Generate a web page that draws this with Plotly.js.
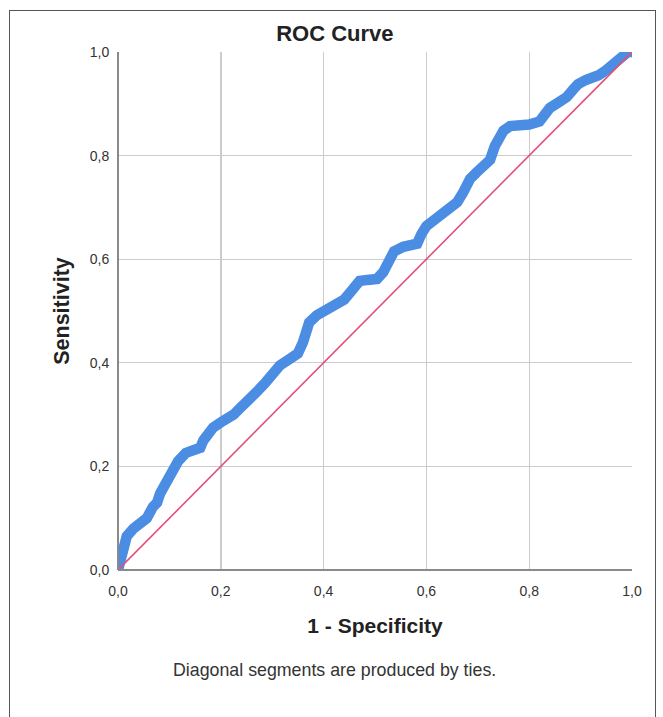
<!DOCTYPE html>
<html>
<head>
<meta charset="utf-8">
<script src="https://cdn.plot.ly/plotly-3.0.1.min.js"></script>
<style>
  html, body { margin: 0; padding: 0; background: #ffffff; }
  #wrap { position: relative; width: 663px; height: 717px; overflow: hidden; }
  #frame { position: absolute; left: 9px; top: 10px; width: 645px; height: 720px;
           border: 1.5px solid #555; border-bottom: none; pointer-events: none; }
  #chart { position: absolute; left: 0; top: 0; width: 663px; height: 717px; }
</style>
</head>
<body>
<div id="wrap">
  <div id="chart"></div>
  <div id="frame"></div>
</div>
<script>
// ROC curve points (1 - Specificity, Sensitivity)
const fpr = [0, 0.004, 0.008, 0.017, 0.03, 0.043, 0.056, 0.068, 0.076, 0.082, 0.093, 0.1, 0.107, 0.117, 0.132,
  0.146, 0.16, 0.166, 0.185, 0.2, 0.212, 0.225, 0.237, 0.257, 0.27, 0.287, 0.3, 0.315, 0.335, 0.35,
  0.36, 0.366, 0.372, 0.387, 0.403, 0.42, 0.44, 0.455, 0.47, 0.485, 0.504, 0.516, 0.526, 0.537,
  0.555, 0.57, 0.582, 0.59, 0.6, 0.613, 0.628, 0.646, 0.66, 0.672, 0.685, 0.698, 0.71, 0.724,
  0.733, 0.742, 0.75, 0.763, 0.78, 0.8, 0.82, 0.83, 0.84, 0.856, 0.873, 0.885, 0.895, 0.91,
  0.922, 0.935, 0.95, 0.965, 0.98, 0.992, 1];
const tpr = [0, 0.018, 0.035, 0.065, 0.08, 0.09, 0.1, 0.122, 0.13, 0.148, 0.17, 0.178, 0.193, 0.21, 0.226,
  0.232, 0.236, 0.25, 0.275, 0.285, 0.291, 0.3, 0.312, 0.328, 0.344, 0.362, 0.376, 0.395, 0.408, 0.418,
  0.44, 0.462, 0.478, 0.492, 0.5, 0.51, 0.522, 0.54, 0.558, 0.56, 0.562, 0.575, 0.598, 0.615,
  0.624, 0.627, 0.63, 0.648, 0.664, 0.674, 0.687, 0.697, 0.71, 0.73, 0.755, 0.768, 0.778, 0.792,
  0.818, 0.838, 0.848, 0.857, 0.858, 0.86, 0.866, 0.882, 0.892, 0.902, 0.913, 0.927, 0.938, 0.946,
  0.95, 0.955, 0.965, 0.98, 0.993, 1, 1];
// Reference (chance) diagonal
const refX = [0, 1];
const refY = [0, 1];
// Tick values and labels (comma decimals)
const tickVals = [0, 0.2, 0.4, 0.6, 0.8, 1.0];
const tickText = ["0,0", "0,2", "0,4", "0,6", "0,8", "1,0"];

const font = "Liberation Sans, Arial, sans-serif";

const traces = [
  { x: fpr, y: tpr, type: "scatter", mode: "lines", name: "ROC",
    line: { color: "#4a8de2", width: 10.5, shape: "linear" }, hoverinfo: "x+y" },
  { x: refX, y: refY, type: "scatter", mode: "lines", name: "Reference",
    line: { color: "#e0507a", width: 1.6 }, hoverinfo: "x+y" }
];

const axisCommon = {
  range: [0, 1], tickvals: tickVals, ticktext: tickText,
  showgrid: true, gridcolor: "#cccccc", gridwidth: 1.4,
  zeroline: false, showline: false, ticks: "outside", tickcolor: "rgba(0,0,0,0)",
  tickfont: { family: font, size: 14, color: "#333" }, fixedrange: true
};

const layout = {
  width: 663, height: 717,
  margin: { l: 118, r: 31, t: 52, b: 147 },
  paper_bgcolor: "#ffffff", plot_bgcolor: "#ffffff",
  showlegend: false,
  font: { family: font, color: "#222" },
  title: { text: "ROC Curve", font: { family: font, size: 22, color: "#222", weight: "bold" },
           xref: "container", yref: "container", x: 0.505, xanchor: "center", y: 0.953, yanchor: "middle" },
  xaxis: Object.assign({}, axisCommon, {
    ticklen: 8,
    title: { text: "1 - Specificity", font: { family: font, size: 21, color: "#222", weight: "bold" }, standoff: 20 }
  }),
  yaxis: Object.assign({}, axisCommon, {
    ticklen: 5,
    title: { text: "Sensitivity", font: { family: font, size: 21.5, color: "#222", weight: "bold" }, standoff: 14 }
  }),
  shapes: [
    { type: "line", xref: "paper", yref: "paper", x0: 0, x1: 0, y0: 0, y1: 1, line: { color: "#8a8a8a", width: 2 } },
    { type: "line", xref: "paper", yref: "paper", x0: 0, x1: 1, y0: 0, y1: 0, line: { color: "#8a8a8a", width: 2 } }
  ],
  annotations: [
    { text: "Diagonal segments are produced by ties.", xref: "paper", yref: "paper",
      x: 0.422, y: -0.193, xanchor: "center", yanchor: "middle", showarrow: false,
      font: { family: font, size: 17.8, color: "#333" } }
  ]
};

Plotly.newPlot("chart", traces, layout, { displayModeBar: false, staticPlot: true });
</script>
</body>
</html>
